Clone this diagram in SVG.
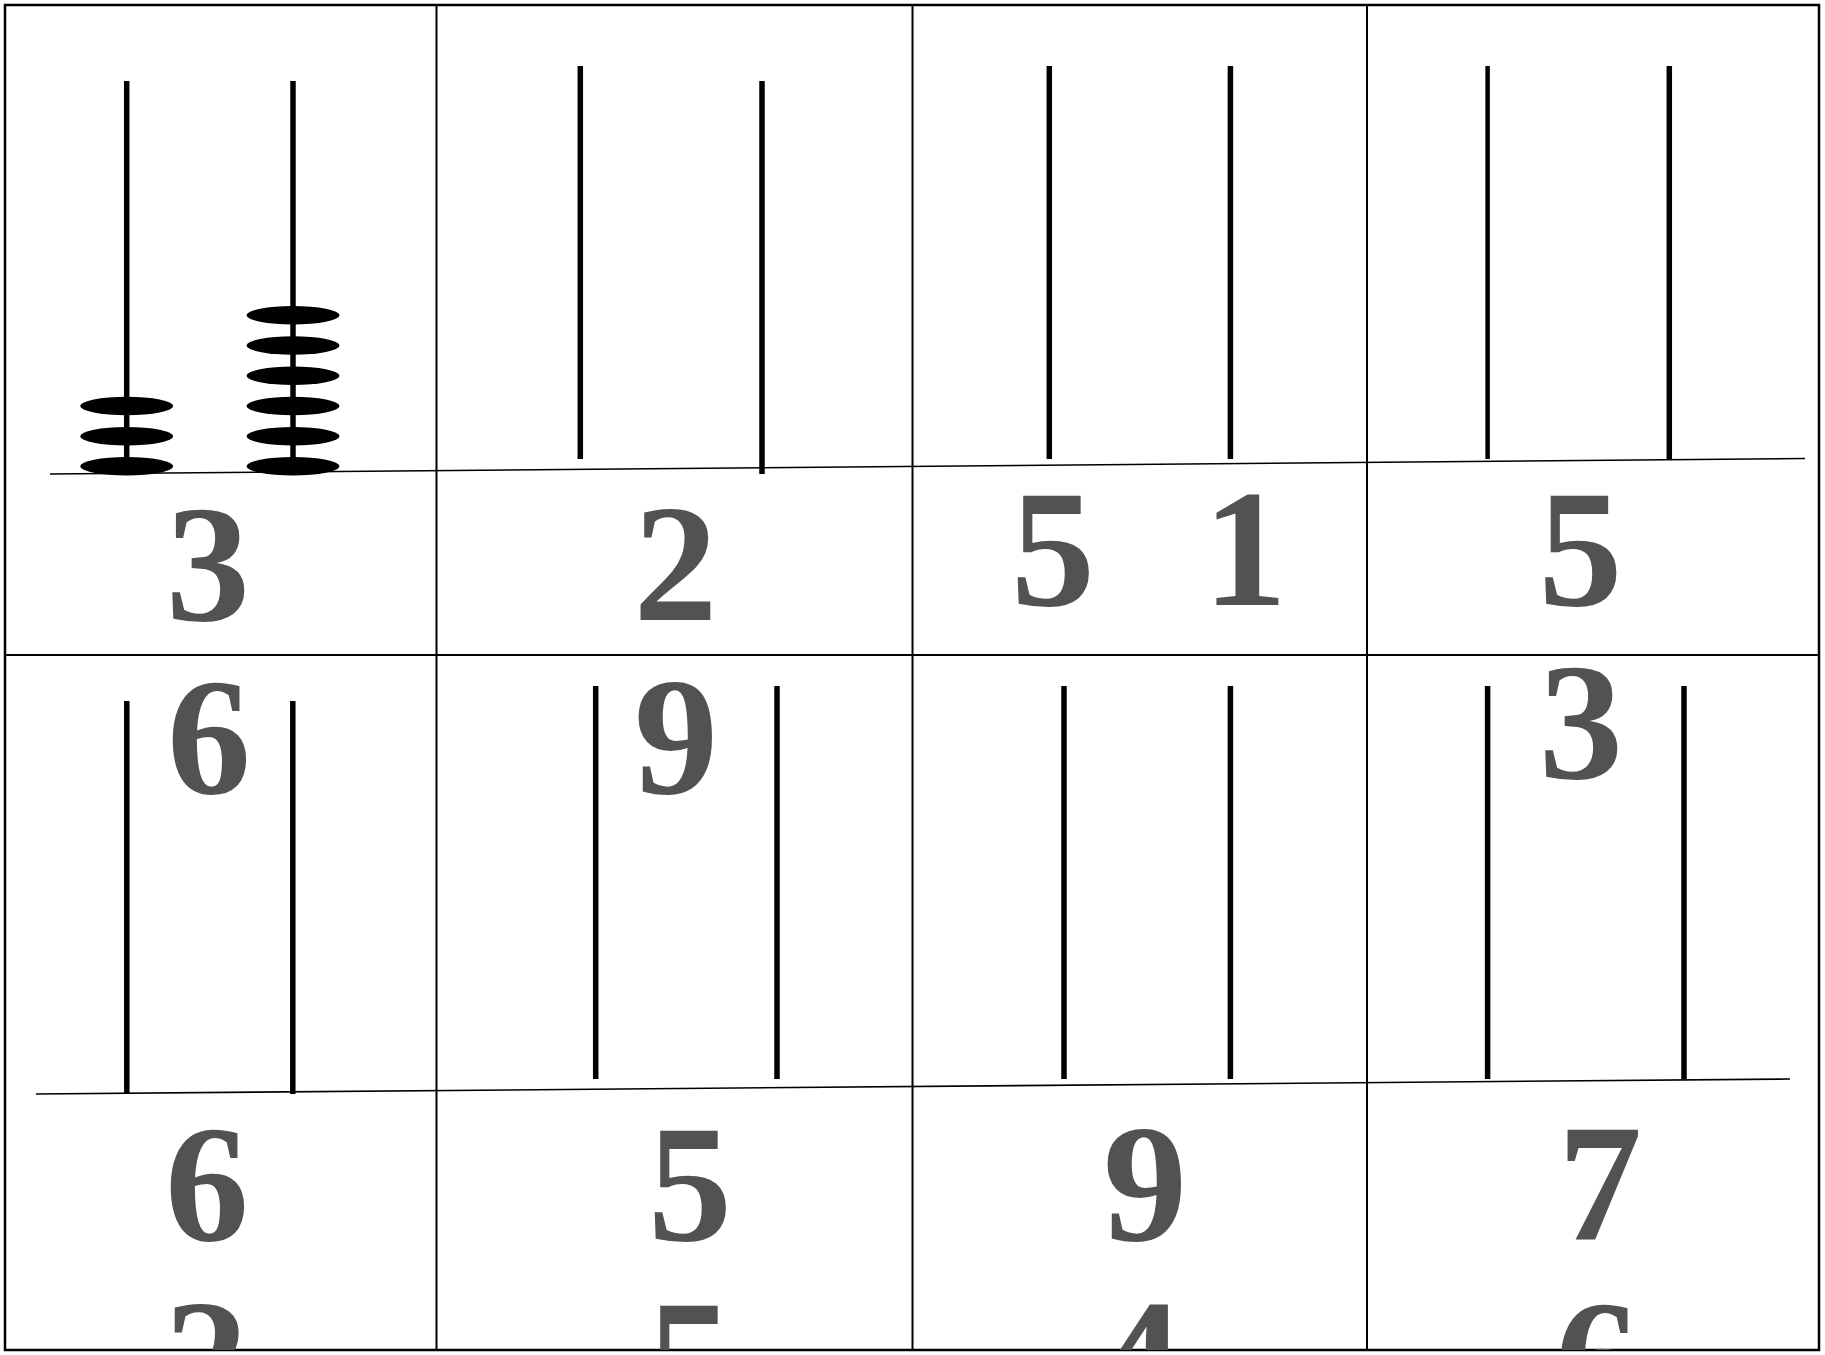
<svg xmlns="http://www.w3.org/2000/svg" width="1825" height="1355" viewBox="0 0 1825 1355">
<style>
.grid{stroke:#000;stroke-width:2;fill:none}
.frame{stroke:#000;stroke-width:2.5;fill:none}
.base{stroke:#000;stroke-width:1.6;fill:none}
.rod{stroke:#000;stroke-width:5.5;fill:none}
.bead{fill:#000}
.num{font-family:"Liberation Serif","Times New Roman",serif;font-weight:bold;font-size:168px;fill:#525252;text-anchor:middle}
</style>
<defs>
<clipPath id="frameClip"><rect x="5" y="5" width="1814" height="1345"/></clipPath>
</defs>
<rect width="1825" height="1355" fill="#fff"/>
<g id="grid">
<line class="grid" x1="436.5" y1="5" x2="436.5" y2="1350"/>
<line class="grid" x1="912.5" y1="5" x2="912.5" y2="1350"/>
<line class="grid" x1="1367" y1="5" x2="1367" y2="1350"/>
<line class="grid" x1="5" y1="655" x2="1819" y2="655"/>
<rect class="frame" x="5" y="5" width="1814" height="1345"/>
</g>
<g id="connectors">
<line class="base" x1="50" y1="474" x2="1805" y2="458.5"/>
<line class="base" x1="36" y1="1094" x2="1790" y2="1079"/>
</g>
<g id="abacus-3-6">
<line class="rod" x1="126.7" y1="81" x2="126.7" y2="466"/>
<line class="rod" x1="293" y1="81" x2="293" y2="466"/>
<ellipse class="bead" cx="126.7" cy="406" rx="46.5" ry="9.2"/>
<ellipse class="bead" cx="126.7" cy="436.3" rx="46.5" ry="9.2"/>
<ellipse class="bead" cx="126.7" cy="466.3" rx="46.5" ry="9.2"/>
<ellipse class="bead" cx="293" cy="315.2" rx="46.5" ry="9.2"/>
<ellipse class="bead" cx="293" cy="345.5" rx="46.5" ry="9.2"/>
<ellipse class="bead" cx="293" cy="375.8" rx="46.5" ry="9.2"/>
<ellipse class="bead" cx="293" cy="406" rx="46.5" ry="9.2"/>
<ellipse class="bead" cx="293" cy="436.3" rx="46.5" ry="9.2"/>
<ellipse class="bead" cx="293" cy="466.3" rx="46.5" ry="9.2"/>
<text class="num" x="208" y="620">3</text>
</g>
<g id="abacus-2">
<line class="rod" x1="580.3" y1="66" x2="580.3" y2="459"/>
<line class="rod" x1="762" y1="81" x2="762" y2="474"/>
<text class="num" x="675.5" y="620">2</text>
</g>
<g id="abacus-5-1">
<line class="rod" x1="1049.3" y1="66" x2="1049.3" y2="459"/>
<line class="rod" x1="1230.4" y1="66" x2="1230.4" y2="459"/>
<text class="num" x="1053" y="605">5</text>
<text class="num" x="1245" y="605">1</text>
</g>
<g id="abacus-5">
<line class="rod" x1="1487.6" y1="66" x2="1487.6" y2="459" style="stroke-width:4.5"/>
<line class="rod" x1="1669.3" y1="66" x2="1669.3" y2="459"/>
<text class="num" x="1580.6" y="605">5</text>
</g>
<g id="cell-6" clip-path="url(#frameClip)">
<line class="rod" x1="126.8" y1="701" x2="126.8" y2="1094"/>
<line class="rod" x1="292.8" y1="701" x2="292.8" y2="1094"/>
<text class="num" x="209" y="793">6</text>
<text class="num" x="207" y="1240">6</text>
<text class="num" x="206" y="1415">2</text>
</g>
<g id="cell-9" clip-path="url(#frameClip)">
<line class="rod" x1="595.7" y1="686" x2="595.7" y2="1079"/>
<line class="rod" x1="777" y1="686" x2="777" y2="1079"/>
<text class="num" x="676" y="793">9</text>
<text class="num" x="690" y="1240">5</text>
<text class="num" x="690" y="1415">5</text>
</g>
<g id="cell-blank" clip-path="url(#frameClip)">
<line class="rod" x1="1064" y1="686" x2="1064" y2="1079"/>
<line class="rod" x1="1230.4" y1="686" x2="1230.4" y2="1079"/>
<text class="num" x="1145" y="1240">9</text>
<text class="num" x="1140" y="1415">4</text>
</g>
<g id="cell-3" clip-path="url(#frameClip)">
<line class="rod" x1="1487.6" y1="686" x2="1487.6" y2="1079"/>
<line class="rod" x1="1684" y1="686" x2="1684" y2="1079"/>
<text class="num" x="1581" y="778">3</text>
<text class="num" x="1600" y="1240">7</text>
<text class="num" x="1597" y="1415">6</text>
</g>
</svg>
